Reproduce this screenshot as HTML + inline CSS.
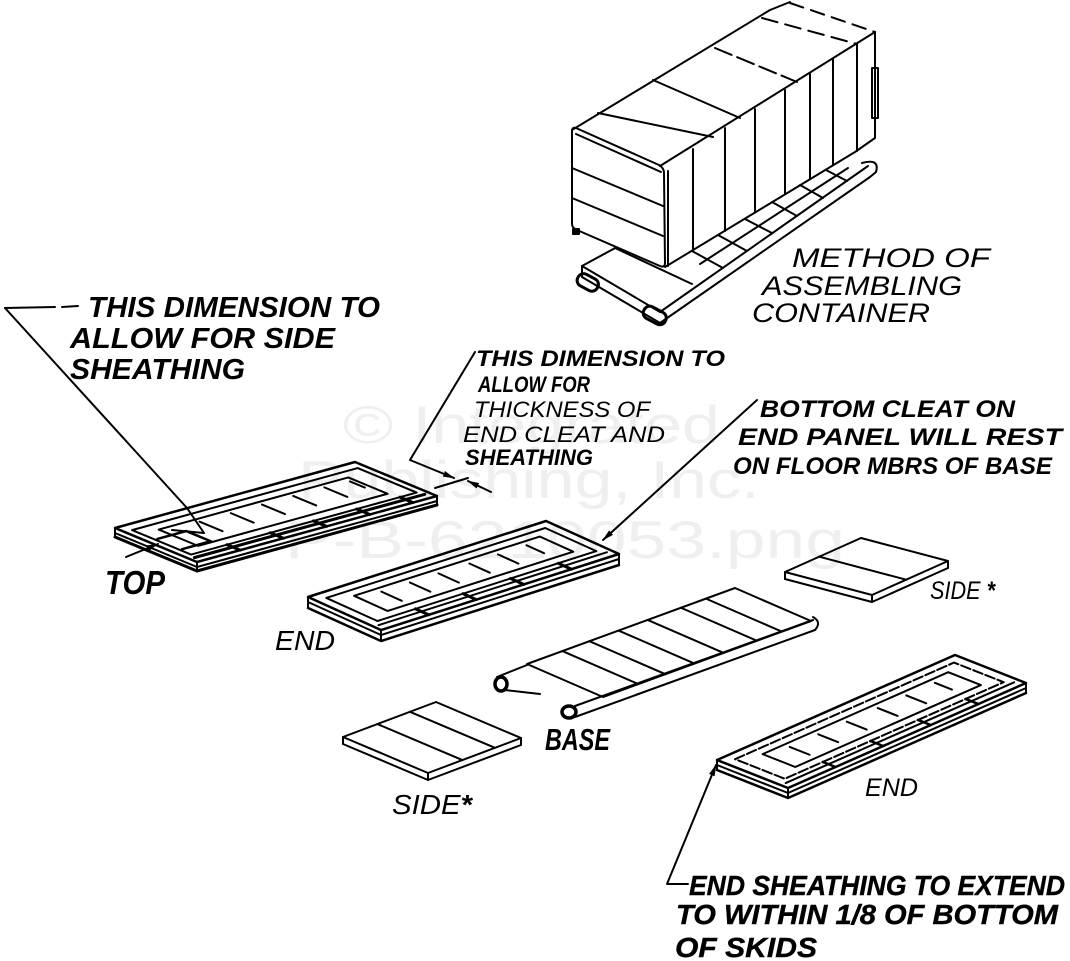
<!DOCTYPE html>
<html><head><meta charset="utf-8">
<style>
html,body{margin:0;padding:0;background:#fff;}
svg{display:block;}
.l *{vector-effect:non-scaling-stroke;}
.tx{font-family:"Liberation Sans",sans-serif;font-style:italic;fill:#000;}
</style></head><body>
<svg width="1070" height="961" viewBox="0 0 1070 961" xmlns="http://www.w3.org/2000/svg">
<defs>
<marker id="ah" markerWidth="12" markerHeight="6" refX="11" refY="3" orient="auto" markerUnits="userSpaceOnUse">
<path d="M0,0 L12,3 L0,6 Z" fill="#000"/></marker>
</defs>
<rect width="1070" height="961" fill="#fff"/>

<!-- watermark -->
<g font-family="Liberation Sans, sans-serif" font-size="53" fill="#efefef">
<text x="343" y="443" textLength="377" lengthAdjust="spacingAndGlyphs">© Integrated</text>
<text x="298" y="498" textLength="462" lengthAdjust="spacingAndGlyphs">Publishing, Inc.</text>
<text x="285" y="558" textLength="560" lengthAdjust="spacingAndGlyphs">P-B-6210053.png</text>
</g>

<g fill="none" stroke="#000" stroke-width="2" stroke-linecap="round" stroke-linejoin="round">

<!-- ================= CONTAINER ================= -->
<!-- platform -->
<path d="M582,266 L660,312 L868,166"/>
<path d="M862,163 Q880,158 876,172 L870,177"/>
<path d="M582,266 L582,277 L660,323 L870,177"/>
<path d="M582,266 L617,247"/>
<path d="M615,248 L692,284"/>
<rect x="577" y="276" width="22" height="13" rx="6" transform="rotate(28 588 282)" stroke-width="3"/>
<rect x="643" y="309" width="24" height="13" rx="6" transform="rotate(28 655 315)" stroke-width="3"/>
<path d="M692,251 L723,268 M718,235 L747,251 M745,219 L772,233 M772,202 L797,216 M800,185 L823,198 M826,170 L847,181"/>
<path d="M700,264 L848,168"/>
<!-- front face -->
<path d="M572,131 Q572,127 576,128 L659,165 Q664,168 664,173 L665,263 Q665,268 660,266 L577,230 Q572,228 572,224 Z" fill="#fff"/>
<path d="M572,168 L663,206 M572,198 L663,236 M576,134 L661,172"/>
<path d="M668,171 L668,266"/>
<rect x="573" y="229" width="6" height="5" fill="#000"/>
<!-- top face -->
<path d="M572,130 L770,10"/>
<path d="M660,166 L875,32"/>
<path d="M770,10 L790,2"/>
<path d="M790,3 L875,32" stroke-dasharray="14 8"/>
<path d="M598,113 L713,137"/>
<path d="M653,80 L740,118"/>
<path d="M715,48 L797,82" stroke-dasharray="18 6"/>
<path d="M762,18 L857,44" stroke-dasharray="16 8"/>
<!-- side face -->
<path d="M665,267 L855,152 L875,138 L875,32"/>
<path d="M693,149 L693,250 M725,128 L725,231 M755,109 L755,212 M785,90 L785,194 M810,74 L810,179 M833,59 L833,165 M857,44 L857,151"/>
<rect x="872" y="68" width="6" height="50"/>

<!-- ================= TOP PANEL ================= -->
<g class="l" transform="matrix(2.40,-0.66,0.82,0.34,115,528)">
<path d="M0,0H100V100H0Z" stroke-width="2.5"/>
<path d="M3,12H97V84H3Z"/>
<path d="M10,24H89V72H10Z"/>
<path d="M2,91H98" stroke-width="3"/>
<path d="M25,30V58M38,30V58M51,30V58M64,30V58M77,30V58M87,32V50"/>
<path d="M18,84V100M36,84V100M54,84V100M72,84V100M90,84V100" stroke-width="3"/>
<path d="M4,40H16V70H4" stroke-width="2.5"/>
</g>
<g class="l" transform="translate(0,5)"><g transform="matrix(2.40,-0.66,0.82,0.34,115,528)"><path d="M0,0V100H100"/></g></g>
<g class="l" transform="translate(0,9)"><g transform="matrix(2.40,-0.66,0.82,0.34,115,528)"><path d="M0,0V100H100" stroke-width="3"/></g></g>
<path d="M115,528V537 M197,562V571 M437,496V505"/>
<!-- leader 1 -->
<path d="M5,308 L55,307 M62,307 L78,306"/>
<path d="M5,308 L187,508 L204,533 L172,530"/>
<path d="M126,557 L158,544" marker-end="url(#ah)"/>

<!-- ================= END PANEL 1 ================= -->
<g class="l" transform="matrix(2.38,-0.76,0.73,0.33,308,597)">
<path d="M0,0H100V100H0Z" stroke-width="2.5"/>
<path d="M4,12H96V82H4Z"/>
<path d="M12,24H90V70H12Z"/>
<path d="M2,90H98"/>
<path d="M21,32V60M33,32V60M45,32V60M58,32V60M70,32V60M82,32V56"/>
<path d="M20,82V100M40,82V100M60,82V100M80,82V100" stroke-width="3"/>
</g>
<g class="l" transform="translate(0,5)"><g transform="matrix(2.38,-0.76,0.73,0.33,308,597)"><path d="M0,0V100H100"/></g></g>
<g class="l" transform="translate(0,11)"><g transform="matrix(2.38,-0.76,0.73,0.33,308,597)"><path d="M0,0V100H100" stroke-width="2.5"/></g></g>
<path d="M308,597V608 M381,630V641 M619,554V565"/>
<!-- leader 3 -->
<path d="M757,400 L603,540" marker-end="url(#ah)"/>
<!-- leader 2 -->
<path d="M475,352 L410,460 L454,478" marker-end="url(#ah)"/>
<path d="M435,488 L468,478"/>
<path d="M491,492 L468,481" marker-end="url(#ah)"/>

<!-- ================= BASE ================= -->
<g class="l" transform="matrix(2.08,-0.76,0.76,0.33,527,664)">
<path d="M0,0H100V100H0Z"/>
<path d="M17,0V100M30,0V100M44,0V100M58,0V100M74,0V100M86,0V100"/>
</g>
<path d="M575,706 L813,620"/>
<path d="M575,717 L815,630"/>
<path d="M813,617 Q822,622 815,630"/>
<ellipse cx="569" cy="712" rx="7" ry="6" stroke-width="3.5"/>
<path d="M497,677 L527,665"/>
<path d="M505,690 L540,694"/>
<ellipse cx="501" cy="684" rx="6" ry="7" stroke-width="3.5"/>

<!-- ================= SIDE 1 ================= -->
<g class="l" transform="matrix(0.93,-0.35,0.85,0.36,343,737)">
<path d="M0,0H100V100H0Z"/>
<path d="M37,0V100M72,0V100"/>
</g>
<g class="l" transform="translate(0,7)"><g transform="matrix(0.93,-0.35,0.85,0.36,343,737)"><path d="M0,0V100H100"/></g></g>
<path d="M343,737V744 M428,773V780 M521,738V745"/>

<!-- ================= SIDE 2 ================= -->
<g class="l" transform="matrix(0.76,-0.34,0.87,0.23,785,572)">
<path d="M0,0H100V100H0Z"/>
<path d="M45,0V100"/>
</g>
<g class="l" transform="translate(0,7)"><g transform="matrix(0.76,-0.34,0.87,0.23,785,572)"><path d="M0,0V100H100"/></g></g>
<path d="M785,572V579 M872,595V602 M948,561V568"/>

<!-- ================= END PANEL 2 ================= -->
<g class="l" transform="matrix(2.38,-1.05,0.71,0.28,717,760)">
<path d="M0,0H100V100H0Z" stroke-width="2.5"/>
<path d="M4,12H96V82H4Z" stroke-dasharray="10 3"/>
<path d="M12,24H90V70H12Z"/>
<path d="M2,90H98"/>
<path d="M21,32V60M33,32V60M45,32V60M58,32V60M70,32V60M82,32V56"/>
<path d="M20,82V100M40,82V100M60,82V100M80,82V100" stroke-width="2.5"/>
</g>
<g class="l" transform="translate(0,5)"><g transform="matrix(2.38,-1.05,0.71,0.28,717,760)"><path d="M0,0V100H100"/></g></g>
<g class="l" transform="translate(0,10)"><g transform="matrix(2.38,-1.05,0.71,0.28,717,760)"><path d="M0,0V100H100" stroke-width="2.5"/></g></g>
<path d="M717,760V770 M788,788V798 M1026,683V693"/>
<!-- leader 4 -->
<path d="M688,884 L667,884 L716,765" marker-end="url(#ah)"/>
</g>

<!-- ================= TEXT ================= -->
<g class="tx">
<text x="88" y="317" font-size="29" font-weight="bold" textLength="292" lengthAdjust="spacingAndGlyphs">THIS DIMENSION TO</text>
<text x="70" y="348" font-size="29" font-weight="bold" textLength="265" lengthAdjust="spacingAndGlyphs">ALLOW FOR SIDE</text>
<text x="70" y="379" font-size="29" font-weight="bold" textLength="175" lengthAdjust="spacingAndGlyphs">SHEATHING</text>

<text x="476" y="366" font-size="22" font-weight="bold" textLength="249" lengthAdjust="spacingAndGlyphs">THIS DIMENSION TO</text>
<text x="478" y="392" font-size="22" font-weight="bold" textLength="112" lengthAdjust="spacingAndGlyphs">ALLOW FOR</text>
<text x="474" y="417" font-size="22" textLength="176" lengthAdjust="spacingAndGlyphs">THICKNESS OF</text>
<text x="463" y="442" font-size="22" textLength="202" lengthAdjust="spacingAndGlyphs">END CLEAT AND</text>
<text x="465" y="465" font-size="22" font-weight="bold" textLength="128" lengthAdjust="spacingAndGlyphs">SHEATHING</text>

<text x="760" y="417" font-size="24" font-weight="bold" textLength="255" lengthAdjust="spacingAndGlyphs">BOTTOM CLEAT ON</text>
<text x="738" y="445" font-size="24" font-weight="bold" textLength="324" lengthAdjust="spacingAndGlyphs">END PANEL WILL REST</text>
<text x="733" y="474" font-size="24" font-weight="bold" textLength="319" lengthAdjust="spacingAndGlyphs">ON FLOOR MBRS OF BASE</text>

<text x="792" y="267" font-size="27" textLength="198" lengthAdjust="spacingAndGlyphs">METHOD OF</text>
<text x="762" y="295" font-size="27" textLength="200" lengthAdjust="spacingAndGlyphs">ASSEMBLING</text>
<text x="752" y="322" font-size="27" textLength="178" lengthAdjust="spacingAndGlyphs">CONTAINER</text>

<text x="105" y="594" font-size="33" font-weight="bold" textLength="60" lengthAdjust="spacingAndGlyphs">TOP</text>
<text x="275" y="650" font-size="28" textLength="60" lengthAdjust="spacingAndGlyphs">END</text>
<text x="930" y="599" font-size="25" textLength="65" lengthAdjust="spacingAndGlyphs">SIDE <tspan font-weight="bold">*</tspan></text>
<text x="545" y="750" font-size="31" font-weight="bold" textLength="65" lengthAdjust="spacingAndGlyphs">BASE</text>
<text x="392" y="814" font-size="28" textLength="80" lengthAdjust="spacingAndGlyphs">SIDE<tspan font-weight="bold">*</tspan></text>
<text x="865" y="796" font-size="25" textLength="53" lengthAdjust="spacingAndGlyphs">END</text>

<text x="689" y="895" font-size="28" font-weight="bold" textLength="376" lengthAdjust="spacingAndGlyphs" stroke="#000" stroke-width="0.4">END SHEATHING TO EXTEND</text>
<text x="676" y="924" font-size="28" font-weight="bold" textLength="382" lengthAdjust="spacingAndGlyphs" stroke="#000" stroke-width="0.4">TO WITHIN 1/8 OF BOTTOM</text>
<text x="675" y="957" font-size="28" font-weight="bold" textLength="142" lengthAdjust="spacingAndGlyphs" stroke="#000" stroke-width="0.4">OF SKIDS</text>
</g>
</svg>
</body></html>
